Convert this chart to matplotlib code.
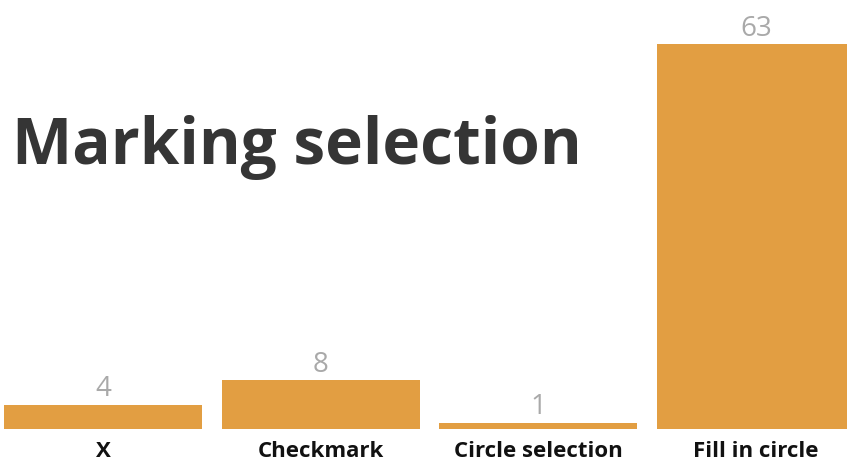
import matplotlib.pyplot as plt

# Datos
categorias = ['X', 'Checkmark', 'Circle selection', 'Fill in circle']
valores = [4, 8, 1, 63]

color_barra = '#E29E42'

fig = plt.figure(figsize=(8.47, 4.62), dpi=100)
ax = fig.add_axes([0, 33 / 462, 1, 385 / 462])

x = range(len(categorias))
barras = ax.bar(x, valores, width=0.91, color=color_barra)

ax.set_xlim(-0.473, 3.418)
ax.set_ylim(0, 63)
ax.axis('off')

# etiquetas de valor encima de las barras
for xi, v in zip(x, valores):
    ax.annotate(str(v), (xi, v), xytext=(0, 1), textcoords='offset points',
                ha='center', va='bottom', fontsize=20, color='#a9a9a9',
                family='Open Sans', annotation_clip=False)

# nombres de categorias debajo
for xi, c in zip(x, categorias):
    ax.annotate(c, (xi, 0), xytext=(0, -16), textcoords='offset points',
                ha='center', va='center', fontsize=16, fontweight='bold',
                color='#111111', family='Open Sans', annotation_clip=False)

fig.text(12 / 847, 1 - 148 / 462, 'Marking selection', fontsize=46,
         fontweight='bold', color='#353535', family='Open Sans',
         ha='left', va='center')

fig.savefig('out.png', dpi=100)
